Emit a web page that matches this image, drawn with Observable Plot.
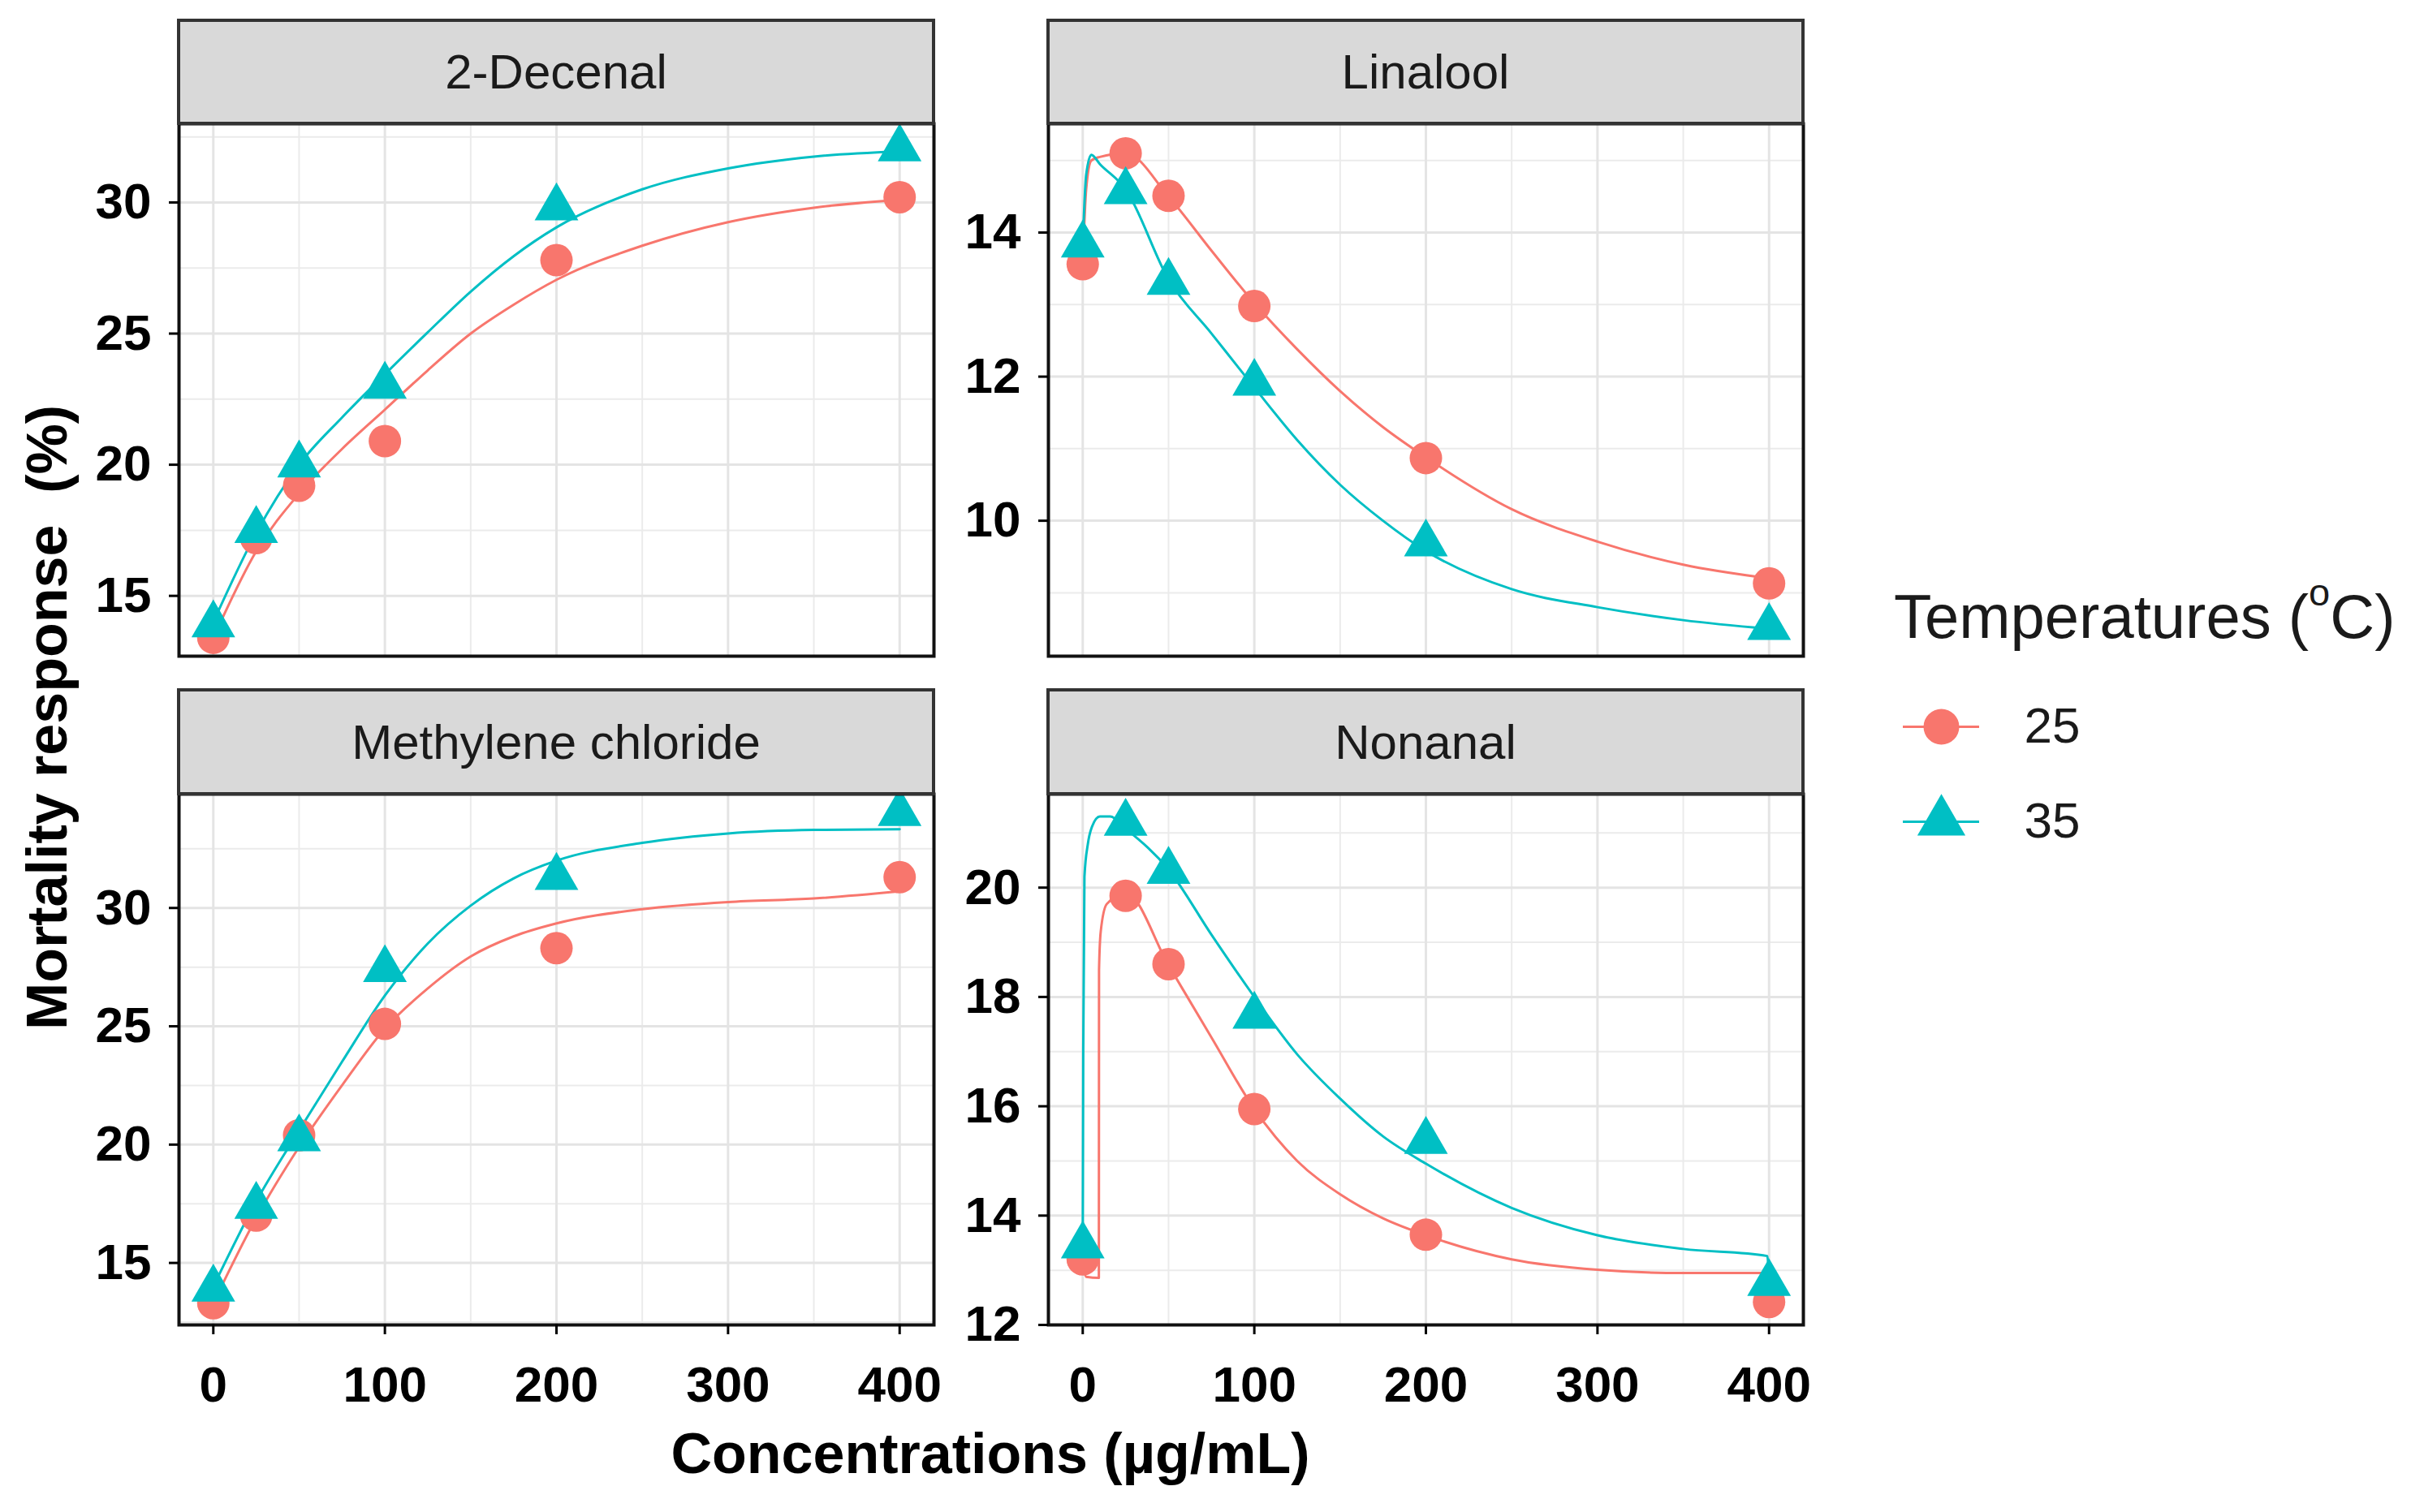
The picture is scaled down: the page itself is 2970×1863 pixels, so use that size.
<!DOCTYPE html>
<html><head><meta charset="utf-8">
<script src="https://cdn.jsdelivr.net/npm/d3@7"></script>
<script src="https://cdn.jsdelivr.net/npm/@observablehq/plot@0.6"></script>
<style>
body{margin:0;background:#fff;}
#root{position:relative;width:2970px;height:1863px;background:#fff;font-family:"Liberation Sans",Arial,sans-serif;overflow:hidden}
.strip{position:absolute;box-sizing:border-box;background:#D9D9D9;border:4px solid #333;display:flex;align-items:center;justify-content:center;font-size:60px;color:#1A1A1A;white-space:nowrap}
.abs{position:absolute;white-space:nowrap}
</style></head><body><div id="root"></div>
<script>
// ---------- data ----------
const compounds = ["2-Decenal", "Linalool", "Methylene chloride", "Nonanal"];
const temperatures = ["25", "35"];
const concentrations = [0, 25, 50, 100, 200, 400];

const decenal25 = [13.4, 17.2, 19.2, 20.9, 27.8, 30.2];
const decenal35 = [13.9, 17.5, 20.0, 23.0, 29.8, 32.05];
const linalool25 = [13.56, 15.1, 14.51, 12.98, 10.87, 9.13];
const linalool35 = [13.83, 14.57, 13.31, 11.91, 9.68, 8.52];
const methylene25 = [13.3, 17.0, 20.4, 25.1, 28.3, 31.3];
const methylene35 = [13.9, 17.4, 20.25, 27.4, 31.3, 34.0];
const nonanal25 = [13.2, 19.85, 18.6, 15.95, 13.65, 12.42];
const nonanal35 = [13.45, 21.18, 20.3, 17.65, 15.36, 12.76];

// fitted curves
const decenalFitX = [0, 25, 50, 75, 100, 125, 150, 175, 200, 250, 300, 350, 400];
const decenalFit25 = [13.4, 16.7, 18.9, 20.6, 22.1, 23.6, 25.0, 26.1, 27.05, 28.35, 29.25, 29.8, 30.1];
const decenalFit35 = [14.0, 17.4, 20.0, 21.8, 23.45, 25.05, 26.6, 27.95, 29.05, 30.5, 31.3, 31.75, 31.95];

const linaloolFitX = [0, 2, 5, 10, 25, 50, 75, 100, 125, 150, 175, 200, 250, 300, 350, 400];
const linaloolFit25 = [13.56, 14.6, 15.0, 15.05, 15.1, 14.5, 13.75, 13.02, 12.38, 11.8, 11.3, 10.88, 10.16, 9.71, 9.39, 9.2];
const linaloolFit35 = [13.83, 14.8, 15.08, 14.95, 14.6, 13.35, 12.6, 11.85, 11.12, 10.5, 10.0, 9.58, 9.05, 8.8, 8.62, 8.5];

const methyleneFitX = [0, 25, 50, 75, 100, 125, 150, 175, 200, 250, 300, 350, 400];
const methyleneFit25 = [13.3, 16.9, 19.9, 22.5, 24.9, 26.6, 27.95, 28.8, 29.35, 29.95, 30.25, 30.4, 30.7];
const methyleneFit35 = [14.0, 17.6, 20.6, 23.5, 26.3, 28.5, 30.1, 31.25, 32.0, 32.75, 33.15, 33.3, 33.33];

const nonanalFitX25 = [0, 2, 9.4, 9.5, 10.5, 14, 25, 50, 75, 100, 125, 150, 175, 200, 250, 300, 350, 399, 400];
const nonanalFit25 = [13.2, 12.88, 12.86, 18.5, 19.2, 19.7, 19.9, 18.58, 17.26, 15.95, 15.0, 14.39, 13.95, 13.64, 13.2, 13.01, 12.95, 12.95, 12.42];
const nonanalFitX35 = [0, 0.3, 1, 3, 5, 10, 16, 25, 50, 75, 100, 125, 150, 175, 200, 250, 300, 350, 399, 400];
const nonanalFit35 = [13.36, 17.0, 20.2, 20.8, 21.08, 21.3, 21.3, 21.08, 20.33, 19.14, 18.0, 16.95, 16.14, 15.45, 14.95, 14.14, 13.64, 13.39, 13.26, 12.76];

// tick labels
const xTicks = [0, 100, 200, 300, 400];
const xMinor = [50, 150, 250, 350];
const decenalTicks = [15, 20, 25, 30];
const decenalMinor = [17.5, 22.5, 27.5, 32.5];
const linaloolTicks = [10, 12, 14];
const linaloolMinor = [9, 11, 13, 15];
const methyleneTicks = [15, 20, 25, 30];
const methyleneMinor = [12.5, 17.5, 22.5, 27.5, 32.5];
const nonanalTicks = [12, 14, 16, 18, 20];
const nonanalMinor = [13, 15, 17, 19, 21];

const colors = ["#F8766D", "#00BFC4"];
const symbols = ["circle", "triangle"];

// ---------- layout ----------
const FONT = '"Liberation Sans", Arial, sans-serif';
const panelLeft = [220, 1291];
const panelTop = [152, 978];
const panelH = [656, 654];
const stripTop = [23, 848];
const PW = 930;
const ML = 150, MR = 14, MT = 14;

function rowsOf(xs, ys25, ys35, xs35) {
  const out = [];
  xs.forEach((x, i) => out.push({x, y: ys25[i], temp: "25"}));
  (xs35 || xs).forEach((x, i) => out.push({x, y: ys35[i], temp: "35"}));
  return out;
}

const panels = [
  {name: compounds[0], col: 0, row: 0, pts: rowsOf(concentrations, decenal25, decenal35),
   fit: rowsOf(decenalFitX, decenalFit25, decenalFit35), yDomain: [12.7, 33.0], ticks: decenalTicks, minor: decenalMinor},
  {name: compounds[1], col: 1, row: 0, pts: rowsOf(concentrations, linalool25, linalool35),
   fit: rowsOf(linaloolFitX, linaloolFit25, linaloolFit35), yDomain: [8.12, 15.51], ticks: linaloolTicks, minor: linaloolMinor},
  {name: compounds[2], col: 0, row: 1, pts: rowsOf(concentrations, methylene25, methylene35),
   fit: rowsOf(methyleneFitX, methyleneFit25, methyleneFit35), yDomain: [12.38, 34.81], ticks: methyleneTicks, minor: methyleneMinor},
  {name: compounds[3], col: 1, row: 1, pts: rowsOf(concentrations, nonanal25, nonanal35),
   fit: rowsOf(nonanalFitX25, nonanalFit25, nonanalFit35, nonanalFitX35), yDomain: [12.0, 21.71], ticks: nonanalTicks, minor: nonanalMinor}
];

const root = document.getElementById("root");
const fmt = d => String(d);

for (const p of panels) {
  const showX = p.row === 1;
  const MB = showX ? 130 : 14;
  const H = panelH[p.row];
  const chart = Plot.plot({
    width: ML + PW + MR,
    height: MT + H + MB,
    marginLeft: ML, marginRight: MR, marginTop: MT, marginBottom: MB,
    style: {fontFamily: FONT, fontSize: "62px", fontWeight: "bold", color: "#000", background: "transparent", overflow: "visible"},
    x: {domain: [-20, 420], axis: null},
    y: {domain: p.yDomain, axis: null},
    color: {domain: temperatures, range: colors},
    symbol: {domain: temperatures, range: symbols},
    marks: [
      Plot.gridX(xMinor, {stroke: "#EBEBEB", strokeOpacity: 1, strokeWidth: 2}),
      Plot.gridY(p.minor, {stroke: "#EBEBEB", strokeOpacity: 1, strokeWidth: 2}),
      Plot.gridX(xTicks, {stroke: "#E4E4E4", strokeOpacity: 1, strokeWidth: 3}),
      Plot.gridY(p.ticks, {stroke: "#E4E4E4", strokeOpacity: 1, strokeWidth: 3}),
      Plot.line(p.fit, {x: "x", y: "y", z: "temp", stroke: "temp", strokeWidth: 3, curve: "monotone-x"}),
      Plot.dot(p.pts, {x: "x", y: "y", fill: "temp", symbol: "temp", r: 20, stroke: null}),
      Plot.frame({stroke: "#111", strokeWidth: 4}),
      Plot.axisY(p.ticks, {tickSize: 12, tickPadding: 22, strokeWidth: 3, fill: "#000", label: null, tickFormat: fmt}),
      showX ? Plot.axisX(xTicks, {tickSize: 12, tickPadding: 38, strokeWidth: 3, fill: "#000", label: null, tickFormat: fmt}) : null
    ]
  });
  chart.style.position = "absolute";
  chart.style.left = (panelLeft[p.col] - ML) + "px";
  chart.style.top = (panelTop[p.row] - MT) + "px";
  root.appendChild(chart);

  const strip = document.createElement("div");
  strip.className = "strip";
  strip.style.left = (panelLeft[p.col] - 2) + "px";
  strip.style.top = stripTop[p.row] + "px";
  strip.style.width = (PW + 4) + "px";
  strip.style.height = (panelTop[p.row] - stripTop[p.row] + 2) + "px";
  strip.textContent = p.name;
  root.appendChild(strip);
}

// axis titles
const xt = document.createElement("div");
xt.className = "abs";
xt.style.cssText += "left:1220px;top:1756px;transform:translateX(-50%);font-size:70px;font-weight:bold;line-height:1;color:#000";
xt.textContent = "Concentrations (\u00B5g/mL)";
root.appendChild(xt);

const yt = document.createElement("div");
yt.className = "abs";
yt.style.cssText += "left:58px;top:884px;transform:translate(-50%,-50%) rotate(-90deg);font-size:70px;font-weight:bold;line-height:1;color:#000";
yt.textContent = "Mortality response  (%)";
yt.style.whiteSpace = "pre";
root.appendChild(yt);

// legend
const lt = document.createElement("div");
lt.className = "abs";
lt.style.cssText += "left:2333px;top:722px;font-size:76px;line-height:1;color:#1A1A1A";
lt.innerHTML = 'Temperatures (<span style="font-size:0.62em;position:relative;top:-0.85em">o</span>C)';
root.appendChild(lt);

const legend = Plot.plot({
  width: 280, height: 190, margin: 0,
  style: {fontFamily: FONT, background: "transparent", overflow: "visible", color: "#1A1A1A"},
  x: {domain: [0, 1], range: [9, 103], axis: null},
  y: {type: "point", domain: temperatures, range: [35, 152], padding: 0, axis: null},
  color: {domain: temperatures, range: colors},
  symbol: {domain: temperatures, range: symbols},
  marks: [
    Plot.ruleY(temperatures, {y: d => d, x1: 0, x2: 1, stroke: d => d, strokeWidth: 3}),
    Plot.dot(temperatures, {x: 0.5, y: d => d, fill: d => d, symbol: d => d, r: 22, stroke: null}),
    Plot.text(temperatures, {x: 1, y: d => d, text: d => d, dx: 55, textAnchor: "start", fontSize: 62, fill: "#1A1A1A"})
  ]
});
legend.style.position = "absolute";
legend.style.left = "2335px";
legend.style.top = "860px";
root.appendChild(legend);
</script></body></html>
